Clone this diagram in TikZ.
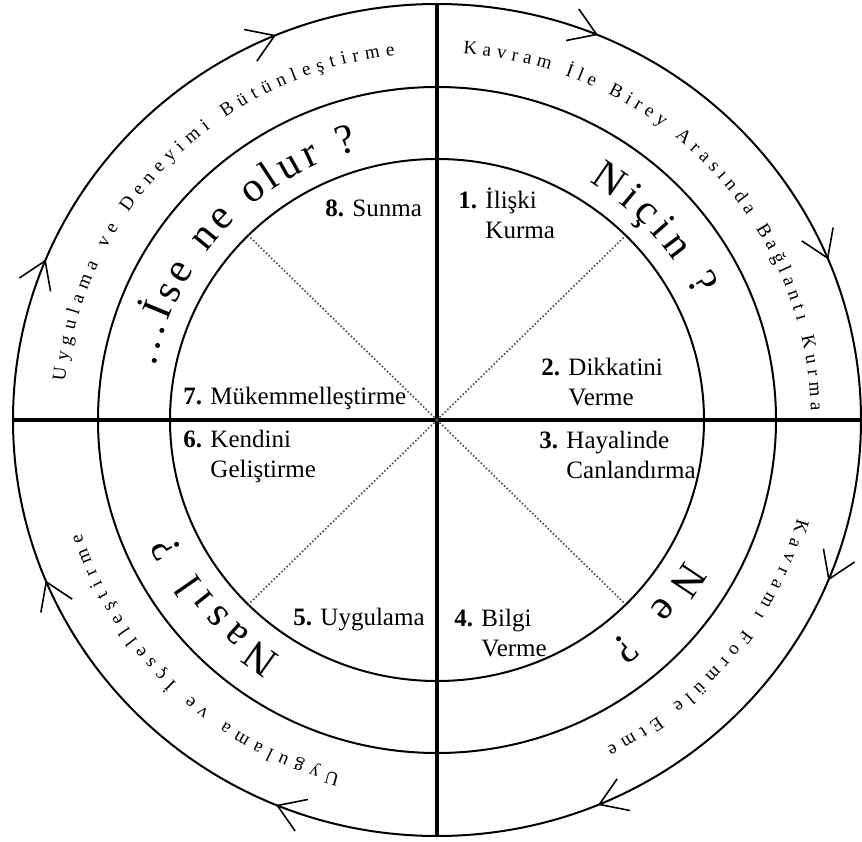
\documentclass[tikz,border=0pt]{standalone}
\usepackage{fontspec}
\setmainfont{Liberation Serif}
\usetikzlibrary{arrows.meta,decorations.markings,decorations.text}

\newcommand{\stagefont}{\fontsize{12.5}{15}\selectfont}
\newcommand{\askfont}{\fontsize{21}{24}\selectfont}
\newcommand{\outfont}{\fontsize{9.5}{11}\selectfont}
% number, first line, second line
\newcommand{\stagelbl}[3]{\begin{tabular}{@{}l@{ }l@{}}\textbf{#1.} & #2\\ & #3\end{tabular}}
% start angle, end angle, x radius, y radius, text
\newcommand{\arctext}[5]{%
  \path[decorate, decoration={text along path, text align={fit to path}, text={#5}}]
    (#1:#3 and #4) arc[start angle=#1, end angle=#2, x radius=#3, y radius=#4];}

\begin{document}
\begin{tikzpicture}[x=0.5pt, y=0.5pt,
  ring/.style={line width=1pt},
  axis/.style={line width=1.6pt},
  spoke/.style={line width=0.8pt, densely dotted, black!70},
  stage/.style={anchor=west, inner sep=0pt, font=\stagefont},
  flow/.style={ring, postaction={decorate}, decoration={markings,
    mark=between positions 0.0625 and 1 step 0.125 with
      {\arrow{Straight Barb[length=13pt, width=17pt, line width=0.8pt]}}}}]
  \useasboundingbox (-437,-421) rectangle (425,420);
  \coordinate (O) at (0,0);

  % three rings, the outer one runs clockwise
  \draw[flow] (0:424 and 416) arc[start angle=360, end angle=0, x radius=424, y radius=416];
  \draw[ring] (O) ellipse[x radius=339, y radius=333];
  \draw[ring] (O) ellipse[x radius=267, y radius=261];

  % cross and spokes
  \coordinate (n) at (90:424 and 416);
  \coordinate (s) at (270:424 and 416);
  \coordinate (w) at (180:424 and 416);
  \coordinate (e) at (0:424 and 416);
  \draw[axis] (n) -- (s);
  \draw[axis] (w) -- (e);
  \foreach \a in {45,135,225,315}{
    \coordinate (rim\a) at (\a:267 and 261);
    \draw[spoke] (O) -- (rim\a);
  }

  % stages
  \node[stage] (s1) at (21,202)   {\stagelbl{1}{İlişki}{Kurma}};
  \node[stage] (s2) at (104,36)   {\stagelbl{2}{Dikkatini}{Verme}};
  \node[stage] (s3) at (102,-37)  {\stagelbl{3}{Hayalinde}{Canlandırma}};
  \node[stage] (s4) at (17,-215)  {\stagelbl{4}{Bilgi}{Verme}};
  \node[stage] (s5) at (-144,-200) {\textbf{5.} Uygulama};
  \node[stage] (s6) at (-254,-36) {\stagelbl{6}{Kendini}{Geliştirme}};
  \node[stage] (s7) at (-254,22)  {\textbf{7.} Mükemmelleştirme};
  \node[stage] (s8) at (-112,212) {\textbf{8.} Sunma};

  % questions
  \arctext{58}{26}{287}{281}{|\askfont|Niçin ?}
  \arctext{-30}{-53}{287}{281}{|\askfont|Ne ?}
  \arctext{237}{204}{287}{281}{|\askfont|Nasıl ?}
  \arctext{169}{106}{287}{281}{|\askfont|...İse ne olur ?}

  % outer ring
  \arctext{174}{96.5}{374}{367}{|\outfont|Uygulama ve Deneyimi Bütünleştirme}
  \arctext{86}{1.5}{374}{367}{|\outfont|Kavram İle Birey Arasında Bağlantı Kurma}
  \arctext{-15.5}{-63}{374}{367}{|\outfont|Kavramı Formüle Etme}
  \arctext{255}{198}{374}{367}{|\outfont|Uygulama ve İçselleştirme}
\end{tikzpicture}
\end{document}
